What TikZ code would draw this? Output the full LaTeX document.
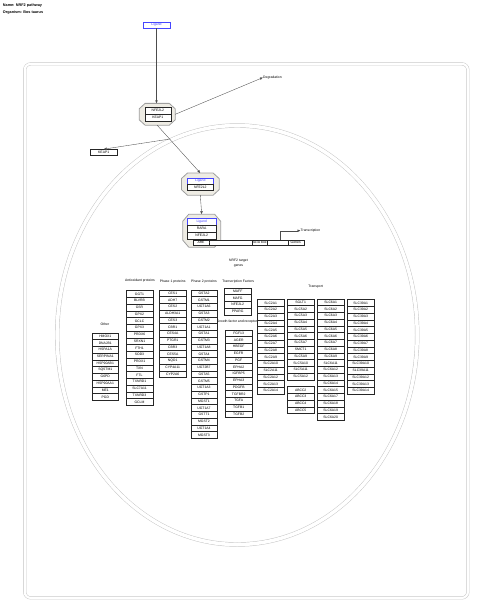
\documentclass[tikz,border=0pt]{standalone}
\usepackage{fontspec}
\setmainfont{Liberation Sans}
\usetikzlibrary{arrows.meta}
\definecolor{ligblue}{RGB}{70,70,255}
\definecolor{octfill}{RGB}{238,236,228}
\definecolor{cellgray}{RGB}{195,195,195}
% chamfered complex outline round an (invisible) node
\newcommand\octdraw[3]{\draw[octline] ([xshift=#2]#1.north west) -- ([xshift=-#2]#1.north east) -- ([yshift=-#3]#1.north east) -- ([yshift=#3]#1.south east) -- ([xshift=-#2]#1.south east) -- ([xshift=#2]#1.south west) -- ([yshift=#3]#1.south west) -- ([yshift=-#3]#1.north west) -- cycle;}
\begin{document}
\begin{tikzpicture}[x=1pt,y=-1pt,
  gene/.style={draw=black!85,line width=0.3pt,fill=white,minimum width=26.7pt,minimum height=6.75pt,inner sep=0pt,font=\fontsize{3.4}{4}\selectfont},
  ligand/.style={gene,draw=ligblue,text=ligblue},
  lbl/.style={font=\fontsize{3.4}{4.4}\selectfont,inner sep=0pt},
  octagon/.style={rectangle,inner sep=0pt},
  octline/.style={draw=gray!75,line width=0.8pt,fill=octfill},
  conn/.style={draw=black!70,line width=0.35pt},
  arr/.style={conn,-{Latex[length=3pt,width=2.6pt]}},
  bound/.style={draw=cellgray,line width=0.45pt,double=white}]
\useasboundingbox (0,0) rectangle (480,611);
\def\dy{6.75}

\node[lbl,anchor=west,font=\fontsize{3.8}{4.4}\selectfont\bfseries] (title) at (2.7,5.7) {Name: NRF2 pathway};
\node[lbl,anchor=west,font=\fontsize{3.8}{4.4}\selectfont\bfseries] (organism) at (2.7,12.3) {Organism: Bos taurus};

% cell and nucleus
\draw[bound,double distance=2.2pt,rounded corners=6pt] (24.7,63.9) rectangle (467.9,597.9);
\draw[bound,double distance=3.5pt] (237.2,335) ellipse [x radius=180, y radius=209.5];

% ligand entering
\node[ligand,minimum width=27pt,minimum height=6.6pt] (lig) at (156.5,25) {Ligand};

\node[octagon,minimum width=35.7pt,minimum height=21.5pt] (oct1) at (157.2,114.3) {};
\octdraw{oct1}{6pt}{5.5pt}
\node[gene,minimum width=25.7pt,minimum height=7pt] (nrfA) at (157.8,110.5) {NFE2L2};
\node[gene,minimum width=25.7pt,minimum height=7pt] (keapA) at (157.8,117.5) {KEAP1};

\node[octagon,minimum width=37.3pt,minimum height=21.7pt] (oct2) at (200.3,184.1) {};
\octdraw{oct2}{6pt}{5.5pt}
\node[ligand,minimum width=26pt,minimum height=6.4pt] (ligB) at (200.3,181) {Ligand};
\node[gene,minimum width=26pt,minimum height=6.4pt] (nrfB) at (200.3,187.4) {NFE2L2};

\node[octagon,minimum width=37.5pt,minimum height=32.5pt] (oct3) at (201.7,230.7) {};
\octdraw{oct3}{6pt}{7pt}
\node[ligand,minimum width=28.7pt] (ligC) at (201.7,222) {Ligand};
\node[gene,minimum width=28.7pt] (rara) at (201.7,228.7) {RARA};
\node[gene,minimum width=28.7pt] (nrfC) at (201.7,235.4) {NFE2L2};
\node[gene,minimum width=16.6pt,minimum height=5pt] (ARE) at (201,242.3) {ARE};

\node[gene,minimum width=79pt,minimum height=5pt] (dna) at (248.8,242.5) {};
\node[gene,minimum width=15.6pt,minimum height=5pt] (tata) at (259.5,242.5) {TATA box};
\node[gene,minimum width=16pt,minimum height=5pt] (genes) at (295.7,242.5) {Genes};
\draw[conn] (ARE.east) -- (ARE.east -| dna.west);

\node[lbl,anchor=west] (degr) at (263,77.5) {Degradation};
\node[gene,minimum width=27pt,minimum height=6pt] (KEAP1) at (103.7,152.3) {KEAP1};
\coordinate (nucedge) at (170,139);
\coordinate (txbend) at (280,230.7);
\node[lbl,anchor=west] (txlbl) at (300.5,230.7) {Transcription};

\draw[arr] (lig.south) -- (lig.south |- oct1.north);
\draw[arr] (oct1.east) -- (degr.west);
\draw[arr] (nucedge) -- (KEAP1.north);
\draw[arr] (oct1.south) -- (oct2.north);
\draw[arr] (oct2.south) -- (oct3.north);
\draw[arr] (dna.north -| txbend) |- (txlbl.west);

% target genes
\node[lbl,align=center] (target) at (238.5,263) {NRF2 target\\genes};
\node[lbl] (othL) at (105,324) {Other};
\node[lbl] (antiL) at (140,281) {Antioxidant proteins};
\node[lbl] (ph1L) at (172.7,281.4) {Phase 1 proteins};
\node[lbl] (ph2L) at (204,281.4) {Phase 2 proteins};
\node[lbl] (tfL) at (238.3,282) {Transcription Factors};
\node[lbl] (gfL) at (237.7,321.4) {Growth factor and receptors};
\node[lbl] (trL) at (315.7,287.1) {Transport};

\foreach \g [count=\i from 0] in {HMOX1,DNAJB1,HSPA1A,SERPINA1,HSP90AB1,SQSTM1,G6PD,HSP90AA1,ME1,PGD}
  \node[gene,minimum width=26pt] (\g) at (105.3,336.2+\i*\dy) {\g};
\foreach \g [count=\i from 0] in {GGT1,BLVRB,GSR,GPX2,GCLC,GPX3,PRDX6,SRXN1,FTH1,SOD3,PRDX1,TXN,FTL,TXNRD1,SLC7A11,TXNRD3,GCLM}
  \node[gene] (\g) at (139.5,293.9+\i*\dy) {\g};
\foreach \g [count=\i from 0] in {CES1,ADH7,CES2,ALDH3A1,CES3,CBR1,CES4A,PTGR1,CBR3,CES5A,NQO1,CYP4A11,CYP2A6}
  \node[gene] (\g) at (172.7,293.2+\i*\dy) {\g};
\foreach \g [count=\i from 0] in {GSTA2,GSTM1,UGT1A6,GSTA3,GSTM2,UGT1A1,GSTA1,GSTM3,UGT1A8,GSTA4,GSTM4,UGT2B7,GSTA5,GSTM5,UGT1A3,GSTP1,MGST1,UGT1A7,GSTT1,MGST2,UGT1A4,MGST3}
  \node[gene] (\g) at (204,293.2+\i*\dy) {\g};
\foreach \g [count=\i from 0] in {MAFF,MAFG,NFE2L2,PPARG}
  \node[gene] (\g) at (237.7,291.1+\i*\dy) {\g};
\foreach \g [count=\i from 0] in {FGF13,AGER,HBEGF,EGFR,PGF,EPHA2,IGFBP5,EPHA3,PDGFB,TGFBR2,TGFA,TGFB1,TGFB2}
  \node[gene] (\g) at (238.7,333.2+\i*\dy) {\g};

% transport
\foreach \g [count=\i from 0] in {SLC2A1,SLC2A2,SLC2A3,SLC2A4,SLC2A5,SLC2A6,SLC2A7,SLC2A8,SLC2A9,SLC2A10,SLC2A11,SLC2A12,SLC2A13,SLC2A14}
  \node[gene] (\g) at (270.7,302.9+\i*\dy) {\g};
\foreach \g [count=\i from 0] in {SGLT1,SLC5A2,SLC5A3,SLC5A4,SLC5A5,SLC5A6,SLC5A7,SMCT1,SLC5A9,SLC5A10,SLC5A11,SLC5A12}
  \node[gene] (\g) at (300.7,302.1+\i*\dy) {\g};
\foreach \g [count=\i from 0] in {ABCC2,ABCC3,ABCC4,ABCC5}
  \node[gene] (\g) at (300.7,390+\i*\dy) {\g};
\foreach \g [count=\i from 0] in {SLC6A1,SLC6A2,SLC6A3,SLC6A4,SLC6A5,SLC6A6,SLC6A7,SLC6A8,SLC6A9,SLC6A11,SLC6A12,SLC6A13,SLC6A14,SLC6A15,SLC6A17,SLC6A18,SLC6A19,SLC6A20}
  \node[gene] (\g) at (330.7,302.1+\i*\dy) {\g};
\foreach \g [count=\i from 0] in {SLC39A1,SLC39A2,SLC39A3,SLC39A4,SLC39A5,SLC39A6,SLC39A7,SLC39A8,SLC39A9,SLC39A10,SLC39A11,SLC39A12,SLC39A13,SLC39A14}
  \node[gene] (\g) at (360.7,302.9+\i*\dy) {\g};
\end{tikzpicture}
\end{document}
